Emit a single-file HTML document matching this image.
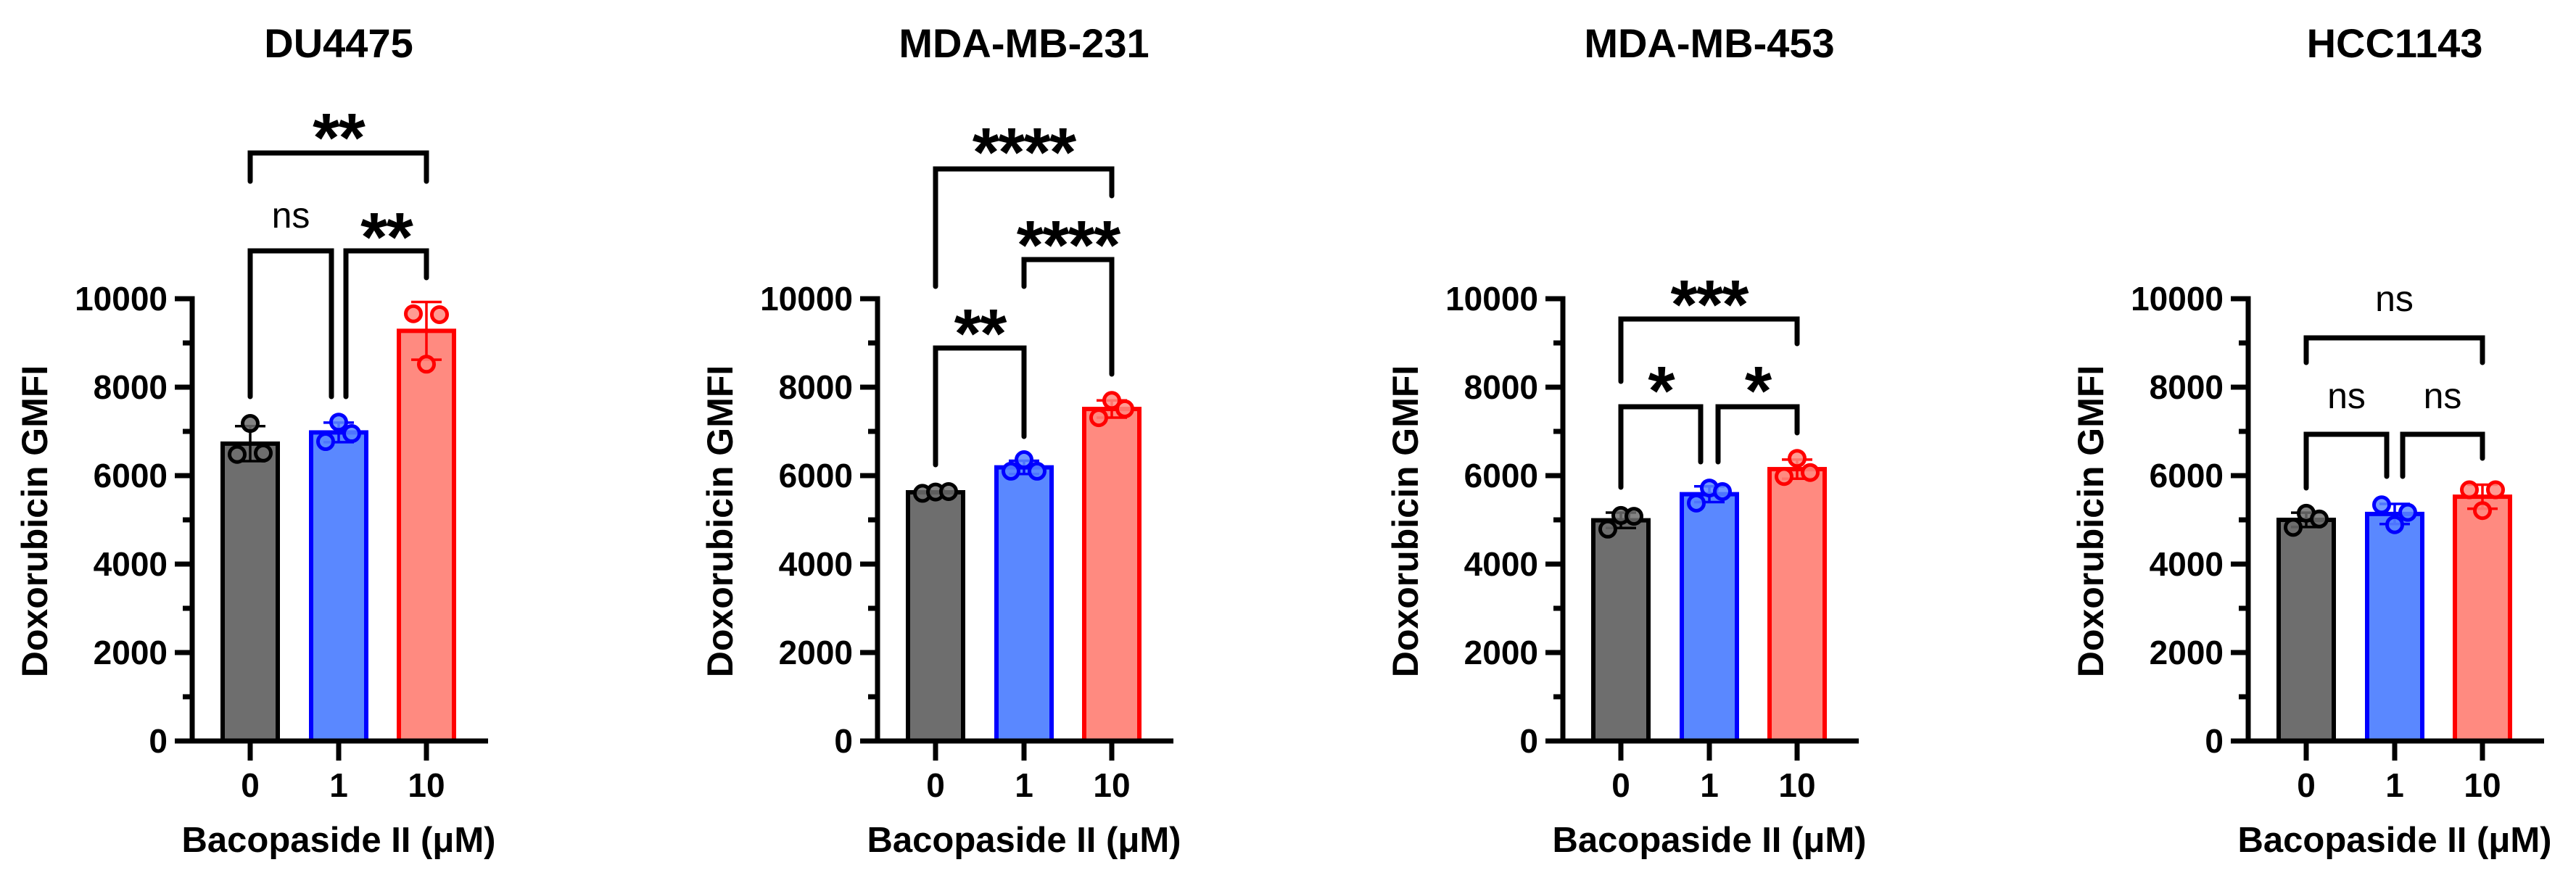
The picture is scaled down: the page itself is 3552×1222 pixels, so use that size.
<!DOCTYPE html>
<html><head><meta charset="utf-8"><title>Doxorubicin GMFI vs Bacopaside II</title>
<style>
html,body{margin:0;padding:0;background:#fff;}
svg{display:block;}
text{font-family:"Liberation Sans",Arial,sans-serif;fill:#000;}
</style></head>
<body>
<svg id="chart" width="3552" height="1222" viewBox="0 0 3552 1222" xmlns="http://www.w3.org/2000/svg"></svg>
<script>
// ---- data ----
const panelTitles = ["DU4475", "MDA-MB-231", "MDA-MB-453", "HCC1143"];
const categories = ["0", "1", "10"];
const yTicks = [0, 2000, 4000, 6000, 8000, 10000];
const yMinorTicks = [1000, 3000, 5000, 7000, 9000];
// replicate values per panel, per category (left, center, right point)
const du4475Values = [[6480, 7180, 6510], [6770, 7210, 6950], [9660, 8520, 9640]];
const mdamb231Values = [[5600, 5630, 5640], [6100, 6360, 6100], [7310, 7700, 7510]];
const mdamb453Values = [[4790, 5100, 5080], [5380, 5720, 5640], [5980, 6390, 6070]];
const hcc1143Values = [[4830, 5150, 5020], [5340, 4890, 5170], [5680, 5210, 5680]];
const panelValues = [du4475Values, mdamb231Values, mdamb453Values, hcc1143Values];
// significance labels: [top 0-10, 1-10, 0-1]
const sigTop = ["**", "****", "***", "ns"];
const sig01 = ["ns", "**", "*", "ns"];
const sig12 = ["**", "****", "*", "ns"];

// ---- layout ----
const svg = document.getElementById('chart');
const NS = 'http://www.w3.org/2000/svg';
const axisX = [265, 1210, 2155, 3100];
const Y0 = 1022, YSCALE = 0.061;
const catOff = [80, 202, 323];
const fills = ['#6e6e6e', '#5a88ff', '#ff8a80'];
const strokes = ['#000000', '#0000ff', '#ff0000'];
const jitter = [-18, 0, 18];
function yScale(v) { return Y0 - v * YSCALE; }
function el(tag, attrs, parent) {
  const e = document.createElementNS(NS, tag);
  for (const k in attrs) e.setAttribute(k, attrs[k]);
  (parent || svg).appendChild(e);
  return e;
}
function mean(a) { return a.reduce((s, v) => s + v, 0) / a.length; }
function sd(a) { const m = mean(a); return Math.sqrt(a.reduce((s, v) => s + (v - m) * (v - m), 0) / (a.length - 1)); }

// bracket geometry per panel: [from, to, barY, leftBottom, rightBottom, labelY, insetLeft, insetRight]
const bracketGeom = [
  [[0, 2, 211, 250, 250, 168, 0, 0], [0, 1, 346, 547, 547, 301, 0, -10], [1, 2, 346, 547, 383, 305, 10, 0]],
  [[0, 2, 233, 395, 270, 188, 0, 0], [0, 1, 480, 641, 602, 438, 0, 0], [1, 2, 358, 395, 516, 316, 0, 0]],
  [[0, 2, 440, 526, 474, 398, 0, 0], [0, 1, 561, 672, 637, 517, 0, -12], [1, 2, 561, 637, 597, 517, 12, 0]],
  [[0, 2, 466, 500, 500, 416, 0, 0], [0, 1, 599, 673, 657, 550, 0, -11], [1, 2, 599, 657, 632, 550, 11, 0]]
];

panelTitles.forEach((title, p) => {
  const A = axisX[p];
  const g = el('g', {});
  
  

  const t = el('text', { x: A + 202, y: 79, 'font-size': 56, 'font-weight': 'bold', 'text-anchor': 'middle' }, g);
  t.textContent = title;
  
  

  // bars, error bars, points
  const vals = panelValues[p];
  vals.forEach((arr, c) => {
    const cx = A + catOff[c];
    const m = mean(arr), s = sd(arr);
    const bar = el('rect', { x: cx - 38, y: yScale(m), width: 76, height: Y0 - yScale(m), fill: fills[c], stroke: strokes[c], 'stroke-width': 6 }, g);
    
    
    const eb = el('g', { stroke: strokes[c], 'stroke-width': 3.5 }, g);
    
    
    el('line', { x1: cx, x2: cx, y1: yScale(m + s), y2: yScale(m - s) }, eb);
    el('line', { x1: cx - 21, x2: cx + 21, y1: yScale(m + s), y2: yScale(m + s) }, eb);
    el('line', { x1: cx - 21, x2: cx + 21, y1: yScale(m - s), y2: yScale(m - s) }, eb);
    arr.forEach((v, i) => {
      const pt = el('circle', { cx: cx + jitter[i], cy: yScale(v), r: 10.5, fill: fills[c], 'fill-opacity': 0.85, stroke: strokes[c], 'stroke-width': 5 }, g);
      
      
    });
  });

  // axes
  const ax = el('g', { stroke: '#000', 'stroke-width': 7, fill: 'none' }, g);
  
  
  el('line', { x1: A, x2: A, y1: yScale(10000) - 3.5, y2: Y0 + 3.5 }, ax);
  el('line', { x1: A - 24, x2: A + 408, y1: Y0, y2: Y0 }, ax);
  yTicks.forEach(v => {
    el('line', { x1: A - 24, x2: A, y1: yScale(v), y2: yScale(v) }, ax);
    const tl = el('text', { x: A - 34, y: yScale(v) + 16, 'font-size': 46, 'font-weight': 'bold', 'text-anchor': 'end' }, g);
    tl.textContent = v;
    
    
  });
  yMinorTicks.forEach(v => { el('line', { x1: A - 13, x2: A, y1: yScale(v), y2: yScale(v) }, ax); });
  categories.forEach((c, i) => {
    el('line', { x1: A + catOff[i], x2: A + catOff[i], y1: Y0, y2: Y0 + 27 }, ax);
    const xl = el('text', { x: A + catOff[i], y: 1099, 'font-size': 46, 'font-weight': 'bold', 'text-anchor': 'middle' }, g);
    xl.textContent = c;
    
    
  });
  const xt = el('text', { x: A + 202, y: 1175, 'font-size': 49, 'font-weight': 'bold', 'text-anchor': 'middle' }, g);
  xt.textContent = 'Bacopaside II (\u03bcM)';
  
  
  const yt = el('text', { x: 0, y: 0, 'font-size': 50, 'font-weight': 'bold', 'text-anchor': 'middle', transform: 'translate(' + (A - 200) + ',719) rotate(-90)' }, g);
  yt.textContent = 'Doxorubicin GMFI';
  
  

  // significance brackets
  const labels = [sigTop[p], sig01[p], sig12[p]];
  bracketGeom[p].forEach((b, k) => {
    const x1 = A + catOff[b[0]] + b[6], x2 = A + catOff[b[1]] + b[7];
    const bg = el('path', { d: 'M' + x1 + ' ' + b[3] + ' L' + x1 + ' ' + b[2] + ' L' + x2 + ' ' + b[2] + ' L' + x2 + ' ' + b[4], stroke: '#000', 'stroke-width': 7, fill: 'none', 'stroke-linecap': 'round', 'stroke-linejoin': 'miter' }, g);
    
    
    const lab = labels[k];
    const mx = (x1 + x2) / 2;
    let lt;
    if (lab === 'ns') {
      lt = el('text', { x: mx, y: b[5] + 13, 'font-size': 50, 'text-anchor': 'middle' }, g);
    } else {
      lt = el('text', { x: mx, y: b[5] + 55, 'font-size': 96, 'font-weight': 'bold', 'text-anchor': 'middle', 'letter-spacing': '-2' }, g);
    }
    lt.textContent = lab;
    
    
  });
});
</script>
</body></html>
